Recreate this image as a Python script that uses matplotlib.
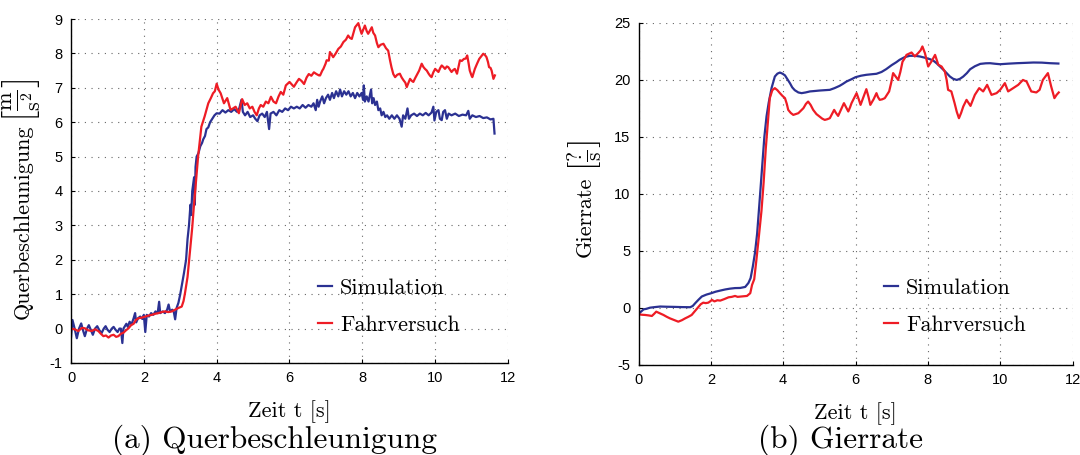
import matplotlib
matplotlib.use('Agg')
import matplotlib.pyplot as plt

# --- data ---
# (a) Querbeschleunigung, Simulation
t_qa_sim = [0.00, 0.04, 0.10, 0.16, 0.22, 0.28, 0.33, 0.38, 0.44, 0.49, 0.55, 0.60, 0.66, 0.72, 0.78, 0.84,
            0.90, 0.95, 1.00, 1.06, 1.12, 1.17, 1.22, 1.28, 1.33, 1.37, 1.41, 1.44, 1.52, 1.56, 1.61, 1.66,
            1.72, 1.76, 1.79, 1.84, 1.90, 1.96, 2.00, 2.04, 2.08, 2.14, 2.20, 2.26, 2.32, 2.38, 2.42, 2.45,
            2.52, 2.58, 2.64, 2.68, 2.72, 2.78, 2.82, 2.86, 2.90, 2.95, 3.00, 3.05, 3.10, 3.16, 3.20, 3.24,
            3.28, 3.30, 3.33, 3.38, 3.40, 3.42, 3.45, 3.50, 3.55, 3.60, 3.63, 3.68, 3.72, 3.77, 3.82, 3.88,
            3.94, 4.00, 4.08, 4.16, 4.24, 4.32, 4.40, 4.48, 4.56, 4.62, 4.68, 4.72, 4.78, 4.85, 4.92, 5.00,
            5.06, 5.12, 5.18, 5.25, 5.32, 5.38, 5.44, 5.48, 5.56, 5.64, 5.72, 5.80, 5.88, 5.96, 6.04, 6.12,
            6.20, 6.28, 6.36, 6.44, 6.52, 6.60, 6.66, 6.72, 6.76, 6.80, 6.84, 6.90, 6.95, 7.00, 7.06, 7.11,
            7.17, 7.22, 7.28, 7.34, 7.39, 7.44, 7.50, 7.56, 7.62, 7.68, 7.74, 7.80, 7.86, 7.92, 7.98, 8.02,
            8.04, 8.07, 8.12, 8.17, 8.21, 8.24, 8.27, 8.31, 8.35, 8.40, 8.44, 8.49, 8.53, 8.58, 8.63, 8.68,
            8.74, 8.81, 8.88, 8.95, 9.02, 9.08, 9.12, 9.18, 9.24, 9.28, 9.34, 9.42, 9.50, 9.58, 9.66, 9.74,
            9.82, 9.90, 9.95, 9.98, 10.03, 10.09, 10.13, 10.18, 10.22, 10.27, 10.32, 10.37, 10.45, 10.55,
            10.65, 10.75, 10.85, 10.91, 10.95, 11.02, 11.12, 11.22, 11.32, 11.42, 11.52, 11.60, 11.63]
qa_sim = [-0.27, 0.25, 0.0, -0.28, 0.0, 0.15, -0.05, -0.22, 0.0, 0.10, -0.05, -0.18, 0.0, 0.07, -0.05, -0.13,
          0.0, 0.07, -0.03, -0.10, 0.0, 0.05, -0.03, -0.10, 0.0, 0.0, -0.42, 0.0, 0.14, 0.05, 0.20, 0.12,
          0.30, 0.45, 0.18, 0.30, 0.35, 0.28, 0.40, -0.10, 0.40, 0.35, 0.45, 0.40, 0.50, 0.45, 0.78, 0.45,
          0.50, 0.45, 0.55, 0.70, 0.50, 0.55, 0.50, 0.27, 0.60, 0.75, 1.00, 1.30, 1.60, 2.00, 2.60, 3.00,
          3.60, 3.30, 4.00, 4.40, 3.60, 4.70, 5.00, 5.10, 5.30, 5.40, 5.50, 5.60, 5.80, 5.85, 6.00, 6.10,
          6.20, 6.26, 6.25, 6.35, 6.28, 6.35, 6.30, 6.38, 6.30, 6.40, 6.65, 6.30, 6.20, 6.30, 6.15, 6.20,
          6.10, 6.03, 6.20, 6.25, 6.15, 6.30, 5.80, 6.25, 6.30, 6.20, 6.35, 6.30, 6.40, 6.35, 6.45, 6.40,
          6.45, 6.40, 6.50, 6.42, 6.50, 6.45, 6.55, 6.35, 6.65, 6.45, 6.60, 6.75, 6.55, 6.70, 6.80, 6.65,
          6.85, 6.70, 6.90, 6.75, 6.95, 6.75, 6.90, 6.80, 6.90, 6.75, 6.85, 6.70, 6.85, 6.75, 6.85, 6.65,
          7.07, 6.60, 6.75, 6.60, 6.80, 6.95, 6.55, 6.70, 6.50, 6.60, 6.35, 6.40, 6.20, 6.30, 6.15, 6.20,
          6.10, 6.20, 6.10, 6.20, 6.10, 5.87, 6.20, 6.10, 6.40, 6.10, 6.20, 6.25, 6.18, 6.25, 6.20, 6.27,
          6.20, 6.28, 6.45, 6.05, 6.30, 6.35, 6.10, 6.06, 6.30, 6.35, 6.10, 6.25, 6.20, 6.25,
          6.18, 6.22, 6.20, 6.33, 6.10, 6.20, 6.15, 6.18, 6.12, 6.14, 6.08, 6.10, 5.67]

# (a) Querbeschleunigung, Fahrversuch
t_qa_exp = [0.00, 0.10, 0.20, 0.30, 0.38, 0.47, 0.57, 0.66, 0.75, 0.82, 0.89, 0.96, 1.03, 1.10, 1.17, 1.24,
            1.30, 1.37, 1.44, 1.51, 1.58, 1.65, 1.72, 1.78, 1.85, 1.95, 2.04, 2.13, 2.22, 2.31, 2.40, 2.49,
            2.58, 2.67, 2.77, 2.86, 2.95, 3.04, 3.09, 3.13, 3.20, 3.27, 3.33, 3.37, 3.41, 3.45, 3.49, 3.53,
            3.58, 3.67, 3.77, 3.84, 3.90, 3.95, 4.00, 4.05, 4.11, 4.20, 4.29, 4.38, 4.45, 4.52, 4.61, 4.70,
            4.77, 4.84, 4.91, 4.98, 5.04, 5.10, 5.16, 5.21, 5.28, 5.35, 5.42, 5.49, 5.56, 5.63, 5.70, 5.76,
            5.83, 5.90, 6.00, 6.06, 6.12, 6.19, 6.26, 6.33, 6.40, 6.47, 6.53, 6.60, 6.67, 6.74, 6.81, 6.84,
            6.90, 6.93, 6.99, 7.02, 7.08, 7.11, 7.20, 7.27, 7.34, 7.41, 7.48, 7.55, 7.61, 7.66, 7.71, 7.80,
            7.89, 7.94, 7.98, 8.07, 8.12, 8.16, 8.26, 8.30, 8.35, 8.40, 8.44, 8.50, 8.58, 8.65, 8.71, 8.76,
            8.80, 8.85, 8.90, 8.96, 9.03, 9.08, 9.13, 9.18, 9.22, 9.27, 9.31, 9.36, 9.40, 9.45, 9.49, 9.56,
            9.63, 9.68, 9.72, 9.77, 9.82, 9.86, 9.90, 9.95, 10.00, 10.05, 10.09, 10.14, 10.18, 10.23, 10.27,
            10.32, 10.36, 10.41, 10.45, 10.50, 10.54, 10.60, 10.64, 10.68, 10.73, 10.79, 10.84, 10.88, 10.92,
            10.95, 11.00, 11.02, 11.06, 11.09, 11.15, 11.21, 11.27, 11.32, 11.37, 11.41, 11.45, 11.48, 11.52,
            11.55, 11.60, 11.64]
qa_exp = [0.0, -0.02, -0.07, 0.02, 0.01, -0.05, -0.07, -0.02, -0.07, -0.15, -0.22, -0.20, -0.26, -0.20, -0.18, -0.24,
          -0.22, -0.15, -0.12, -0.05, 0.01, 0.10, 0.14, 0.25, 0.30, 0.32, 0.35, 0.38, 0.40, 0.43, 0.45, 0.48,
          0.50, 0.48, 0.50, 0.55, 0.60, 0.64, 0.80, 1.03, 1.50, 2.28, 2.95, 3.50, 4.00, 4.50, 5.00, 5.40,
          5.87, 6.17, 6.55, 6.70, 6.84, 6.90, 7.12, 6.95, 6.84, 6.55, 6.70, 6.36, 6.40, 6.45, 6.26, 6.67,
          6.50, 6.55, 6.40, 6.45, 6.30, 6.20, 6.40, 6.50, 6.45, 6.60, 6.55, 6.74, 6.60, 6.55, 6.75, 6.88,
          6.80, 7.07, 7.17, 7.10, 7.03, 7.15, 7.26, 7.20, 7.11, 7.30, 7.40, 7.35, 7.45, 7.40, 7.36, 7.36,
          7.50, 7.55, 7.70, 7.80, 7.79, 8.04, 7.89, 8.00, 8.13, 8.20, 8.33, 8.40, 8.52, 8.45, 8.42, 8.76,
          8.88, 8.70, 8.57, 8.81, 8.65, 8.57, 8.76, 8.60, 8.52, 8.30, 8.18, 8.25, 8.28, 8.15, 8.08, 7.80,
          7.60, 7.40, 7.31, 7.38, 7.41, 7.30, 7.22, 7.15, 7.02, 7.15, 7.26, 7.20, 7.17, 7.28, 7.36, 7.50,
          7.70, 7.60, 7.55, 7.50, 7.41, 7.35, 7.31, 7.45, 7.55, 7.50, 7.46, 7.58, 7.65, 7.60, 7.55,
          7.62, 7.60, 7.52, 7.46, 7.52, 7.55, 7.41, 7.60, 7.80, 7.78, 7.84, 7.85, 7.94, 7.70,
          7.50, 7.35, 7.31, 7.45, 7.55, 7.70, 7.84, 7.92, 7.99, 7.95, 7.89, 7.75, 7.60, 7.58,
          7.50, 7.26, 7.36]

# (b) Gierrate, Simulation
t_gr_sim = [0.00, 0.07, 0.14, 0.22, 0.32, 0.45, 0.60, 0.80, 0.97, 1.20, 1.43, 1.50, 1.57, 1.66, 1.75, 1.88,
            2.01, 2.13, 2.26, 2.40, 2.53, 2.67, 2.81, 2.95, 3.04, 3.10, 3.16, 3.22, 3.28, 3.34, 3.41, 3.48,
            3.54, 3.60, 3.68, 3.77, 3.84, 3.91, 3.98, 4.05, 4.12, 4.19, 4.25, 4.32, 4.42, 4.51, 4.62, 4.74,
            4.88, 5.01, 5.15, 5.29, 5.42, 5.56, 5.65, 5.75, 5.88, 6.00, 6.15, 6.30, 6.45, 6.58, 6.72, 6.85,
            7.00, 7.13, 7.22, 7.36, 7.50, 7.64, 7.78, 7.92, 8.05, 8.15, 8.24, 8.33, 8.43, 8.52, 8.61, 8.70,
            8.80, 8.89, 8.98, 9.08, 9.17, 9.30, 9.45, 9.60, 9.72, 9.86, 10.00, 10.23, 10.46, 10.70, 10.92,
            11.15, 11.38, 11.61]
gr_sim = [-0.55, -0.35, -0.15, -0.10, 0.0, 0.05, 0.10, 0.08, 0.07, 0.05, 0.04, 0.15, 0.40, 0.70, 0.98, 1.15,
          1.27, 1.40, 1.50, 1.60, 1.67, 1.72, 1.73, 1.82, 2.17, 2.60, 3.60, 4.80, 6.50, 9.00, 12.0, 15.0,
          16.8, 18.0, 19.3, 20.3, 20.55, 20.65, 20.55, 20.40, 20.05, 19.70, 19.35, 19.10, 18.90, 18.84, 18.90, 18.99,
          19.03, 19.07, 19.10, 19.13, 19.28, 19.48, 19.65, 19.86, 20.05, 20.24, 20.37, 20.45, 20.50, 20.54, 20.70, 20.95,
          21.30, 21.56, 21.77, 22.00, 22.12, 22.12, 22.06, 21.95, 21.83, 21.70, 21.47, 21.20, 20.89, 20.60, 20.30, 20.10,
          20.00, 20.10, 20.30, 20.60, 20.94, 21.20, 21.41, 21.46, 21.47, 21.42, 21.38, 21.43, 21.47, 21.50, 21.53,
          21.52, 21.47, 21.44]

# (b) Gierrate, Fahrversuch
t_gr_exp = [0.00, 0.09, 0.18, 0.28, 0.37, 0.43, 0.49, 0.59, 0.69, 0.78, 0.87, 0.98, 1.10, 1.20, 1.29, 1.38,
            1.47, 1.56, 1.66, 1.72, 1.79, 1.86, 1.93, 1.98, 2.03, 2.10, 2.18, 2.26, 2.37, 2.49, 2.58, 2.67,
            2.74, 2.81, 2.90, 3.00, 3.09, 3.14, 3.20, 3.26, 3.32, 3.40, 3.46, 3.52, 3.57, 3.63, 3.70, 3.77,
            3.84, 3.91, 3.98, 4.05, 4.10, 4.14, 4.21, 4.28, 4.35, 4.42, 4.49, 4.56, 4.63, 4.69, 4.76, 4.83,
            4.92, 5.01, 5.08, 5.15, 5.22, 5.29, 5.35, 5.41, 5.46, 5.52, 5.60, 5.68, 5.74, 5.80, 5.85, 5.89,
            5.96, 6.03, 6.09, 6.14, 6.22, 6.30, 6.36, 6.41, 6.50, 6.58, 6.62, 6.67, 6.74, 6.81, 6.87, 6.93,
            6.99, 7.04, 7.11, 7.18, 7.24, 7.30, 7.36, 7.41, 7.48, 7.55, 7.64, 7.73, 7.80, 7.85, 7.92, 7.97,
            8.01, 8.10, 8.20, 8.29, 8.38, 8.47, 8.52, 8.56, 8.65, 8.74, 8.80, 8.86, 8.92, 8.98, 9.07, 9.18,
            9.30, 9.42, 9.53, 9.64, 9.76, 9.90, 10.00, 10.13, 10.22, 10.36, 10.50, 10.63, 10.73, 10.86,
            11.00, 11.09, 11.18, 11.25, 11.32, 11.41, 11.50, 11.56, 11.62]
gr_exp = [-0.58, -0.62, -0.64, -0.68, -0.73, -0.55, -0.35, -0.50, -0.64, -0.80, -0.94, -1.08, -1.23, -1.10, -0.94, -0.80,
          -0.64, -0.30, 0.09, 0.30, 0.44, 0.40, 0.44, 0.55, 0.68, 0.55, 0.65, 0.62, 0.75, 0.91, 0.95, 1.03,
          0.95, 0.97, 1.00, 1.03, 1.27, 2.00, 2.50, 4.20, 6.00, 8.50, 11.0, 14.0, 16.0, 18.4, 19.1, 19.28,
          19.1, 18.84, 18.6, 18.4, 17.9, 17.37, 17.1, 16.93, 17.0, 17.08, 17.3, 17.52, 17.9, 18.1, 17.8, 17.37,
          17.0, 16.78, 16.6, 16.49, 16.55, 16.64, 17.0, 17.37, 17.1, 16.84, 17.4, 17.96, 17.6, 17.23, 17.6, 17.96,
          18.4, 18.84, 18.3, 17.81, 18.5, 19.19, 18.5, 17.81, 18.3, 18.84, 18.5, 18.25, 18.3, 18.4, 18.7, 18.99,
          19.8, 20.6, 20.3, 20.0, 20.7, 21.6, 21.9, 22.2, 22.3, 22.41, 22.06, 22.35, 22.6, 22.94, 22.35, 21.7,
          21.18, 21.62, 22.2, 21.33, 21.18, 20.74, 20.0, 19.13, 18.99, 17.96, 17.2, 16.64, 17.1, 17.67, 18.25, 17.72,
          18.69, 19.28, 18.99, 19.57, 18.69, 18.84, 19.13, 19.72, 18.99, 19.28, 19.57, 20.0, 19.86, 18.99,
          18.9, 19.13, 20.0, 20.3, 20.6, 19.43, 18.4, 18.69, 18.9]

blue = '#2b3192'
red = '#ee1c25'

plt.rcParams['mathtext.fontset'] = 'cm'
plt.rcParams['axes.unicode_minus'] = False
plt.rcParams['axes.formatter.use_mathtext'] = False

serif = 'cmr10'
tickfont = 'Liberation Sans'

fig = plt.figure(figsize=(10.8, 4.55), dpi=100)
W, H = 1080.0, 455.0

ax1 = fig.add_axes([71 / W, 1 - 363 / H, 437 / W, 344 / H])
ax2 = fig.add_axes([638.5 / W, 1 - 364.6 / H, 434 / W, 341.6 / H])


def style(ax, xlim, ylim, yticks):
    ax.set_xlim(*xlim)
    ax.set_ylim(*ylim)
    ax.set_xticks(range(0, 13, 2))
    ax.set_yticks(yticks)
    ax.grid(True, color='#666666', linestyle=(0, (1, 5)), linewidth=0.8)
    ax.spines['top'].set_visible(False)
    ax.spines['right'].set_visible(False)
    ax.spines['left'].set_linewidth(1.0)
    ax.spines['bottom'].set_linewidth(1.0)
    ax.tick_params(direction='in', length=3, width=0.8, labelsize=10.5, pad=6)
    for lab in ax.get_xticklabels() + ax.get_yticklabels():
        lab.set_fontfamily(tickfont)
    ax.set_xlabel('Zeit t [s]', fontfamily=serif, fontsize=16, labelpad=11)


style(ax1, (0, 12), (-1, 9), range(-1, 10))
style(ax2, (0, 12), (-5, 25), range(-5, 26, 5))

ax1.plot(t_qa_sim, qa_sim, color=blue, lw=1.6, label='Simulation')
ax1.plot(t_qa_exp, qa_exp, color=red, lw=1.6, label='Fahrversuch')
ax2.plot(t_gr_sim, gr_sim, color=blue, lw=1.6, label='Simulation')
ax2.plot(t_gr_exp, gr_exp, color=red, lw=1.6, label='Fahrversuch')

# y labels: word and unit fraction as two rotated texts (unit drawn larger, as in the original)
fig.text(22.5 / W, 1 - 222 / H, 'Querbeschleunigung', rotation=90, ha='center', va='center',
         fontfamily=serif, fontsize=16)
fig.text(22 / W, 1 - 101 / H, r'$\left[\frac{\mathrm{m}}{\mathrm{s}^2}\right]$', rotation=90,
         ha='center', va='center', fontsize=23)
fig.text(585 / W, 1 - 217 / H, 'Gierrate', rotation=90, ha='center', va='center',
         fontfamily=serif, fontsize=16)
fig.text(585 / W, 1 - 156 / H, r'$\left[\frac{?}{\mathrm{s}}\right]$', rotation=90,
         ha='center', va='center', fontsize=22)

for ax, x0 in [(ax1, 318), (ax2, 884)]:
    ax.legend(loc='upper left', bbox_to_anchor=(x0 / W, 1 - 278 / H), bbox_transform=fig.transFigure,
              frameon=False, prop={'family': serif, 'size': 16}, handlelength=0.65,
              handletextpad=0.35, labelspacing=0.8, borderpad=0, borderaxespad=0)

fig.text(274.5 / W, 1 - 448 / H, '(a) Querbeschleunigung', ha='center', va='baseline',
         fontfamily=serif, fontsize=22.5)
fig.text(840 / W, 1 - 448 / H, '(b) Gierrate', ha='center', va='baseline',
         fontfamily=serif, fontsize=22.5)

fig.savefig('out.png', dpi=100)
